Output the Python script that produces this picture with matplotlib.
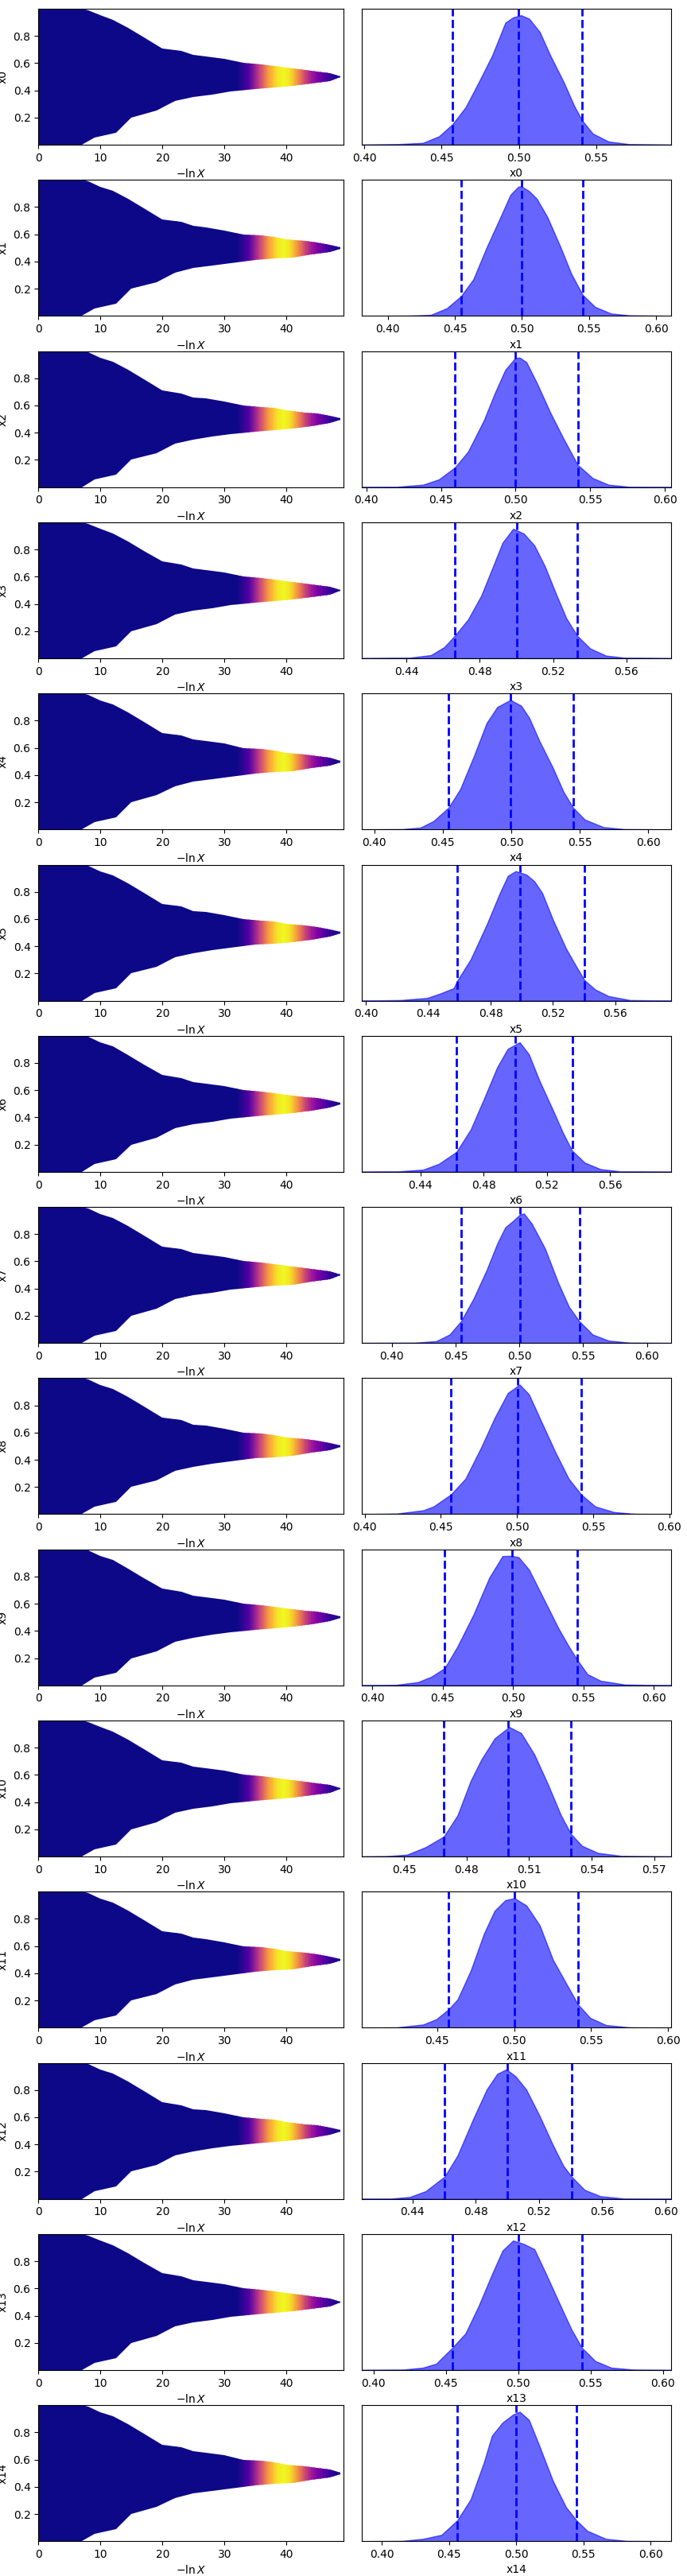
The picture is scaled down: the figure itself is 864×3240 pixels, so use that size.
import matplotlib
matplotlib.use("Agg")
import matplotlib.pyplot as plt
import numpy as np
from matplotlib.patches import Polygon
from matplotlib.ticker import MaxNLocator

labels = ["x%d" % i for i in range(15)]

# outline of the sample cloud in the trace panels
env_x = [0, 7, 8, 10, 12, 14.5, 17, 20, 23, 25, 27, 30, 33, 36, 38, 40, 43, 45, 47, 48.7]
env_hi = [0.9995, 0.9995, 0.99, 0.95, 0.92, 0.86, 0.79, 0.71, 0.69, 0.66, 0.65, 0.63, 0.60,
          0.59, 0.58, 0.565, 0.55, 0.54, 0.525, 0.505]
env_lo_x = [0, 7, 9, 12.5, 15, 19, 22, 25, 28, 31, 35, 38, 41, 44, 47, 48.7]
env_lo = [0.0005, 0.0005, 0.055, 0.09, 0.20, 0.25, 0.32, 0.35, 0.37, 0.39, 0.41, 0.42, 0.43,
          0.45, 0.47, 0.495]

# importance weight along -ln X (colour of the points)
wt_x = [0, 32, 34, 35.5, 37, 38.5, 39.5, 40.5, 42, 43, 44, 45, 46, 47, 48, 49.2]
wt = [0, 0, 0.15, 0.45, 0.75, 0.95, 1.0, 0.95, 0.7, 0.5, 0.35, 0.25, 0.15, 0.08, 0.03, 0.0]

# marginal posteriors: x range, tick labels, quantiles, kde points
xlims = [(0.3986, 0.5983), (0.3809, 0.6109), (0.3972, 0.6039), (0.4157, 0.5843),
         (0.3911, 0.6164), (0.3974, 0.5957), (0.4031, 0.5986), (0.3767, 0.6187),
         (0.3983, 0.6009), (0.3928, 0.6122), (0.4299, 0.5780), (0.4013, 0.6017),
         (0.4082, 0.6033), (0.3921, 0.6055), (0.3852, 0.6152)]
t05 = [0.40, 0.45, 0.50, 0.55, 0.60]
t04 = [0.44, 0.48, 0.52, 0.56]
xticks = [[0.40, 0.45, 0.50, 0.55], t05, t05, t04, t05,
          [0.40] + t04, t04, t05, t05, t05,
          [0.45, 0.48, 0.51, 0.54, 0.57], [0.45, 0.50, 0.55, 0.60],
          t04 + [0.60], t05, t05]
quants = [(0.4569, 0.4996, 0.5409), (0.4545, 0.4995, 0.5453), (0.4593, 0.4997, 0.5416),
          (0.4663, 0.5002, 0.5332), (0.4542, 0.4992, 0.5451), (0.4584, 0.4987, 0.5401),
          (0.4628, 0.5001, 0.5362), (0.4542, 0.5003, 0.5470), (0.4565, 0.5002, 0.5421),
          (0.4514, 0.4994, 0.5456), (0.4691, 0.5000, 0.5301), (0.4574, 0.5002, 0.5415),
          (0.4603, 0.4999, 0.5406), (0.4544, 0.5000, 0.5441), (0.4561, 0.4999, 0.5449)]

kde_x = [
    [0.4209, 0.438, 0.4484, 0.457, 0.4656, 0.4741, 0.4827, 0.4913, 0.4964, 0.5015, 0.5067,
     0.5135, 0.5204, 0.529, 0.5358, 0.5409, 0.5478, 0.5581, 0.5718],
    [0.4164, 0.4322, 0.444, 0.4545, 0.4638, 0.4736, 0.4835, 0.4914, 0.4973, 0.4995, 0.5052,
     0.5111, 0.519, 0.5289, 0.5368, 0.5453, 0.5545, 0.5664, 0.5802],
    [0.4202, 0.438, 0.4486, 0.4593, 0.4681, 0.4788, 0.4859, 0.493, 0.4997, 0.5027, 0.5072,
     0.5143, 0.5231, 0.532, 0.5416, 0.5516, 0.5622, 0.5764],
    [0.4417, 0.4533, 0.4606, 0.4663, 0.4736, 0.4808, 0.4866, 0.4924, 0.4982, 0.504, 0.5098,
     0.5156, 0.5214, 0.5272, 0.5332, 0.5402, 0.5489, 0.559],
    [0.4201, 0.4337, 0.4433, 0.4542, 0.4627, 0.4723, 0.482, 0.4897, 0.4994, 0.5072, 0.513,
     0.5207, 0.5304, 0.5381, 0.5451, 0.5536, 0.5671, 0.5826],
    [0.4221, 0.4391, 0.4477, 0.4562, 0.4587, 0.4672, 0.4774, 0.4859, 0.491, 0.4961, 0.5029,
     0.508, 0.5131, 0.5199, 0.5284, 0.5352, 0.5403, 0.5471, 0.5556, 0.5693],
    [0.4249, 0.4417, 0.4517, 0.4628, 0.4719, 0.4802, 0.4886, 0.4953, 0.5029, 0.5087, 0.5154,
     0.5238, 0.5305, 0.5361, 0.544, 0.5541, 0.5675],
    [0.4183, 0.4349, 0.4453, 0.4542, 0.464, 0.4744, 0.4827, 0.4889, 0.4951, 0.5003, 0.5035,
     0.5097, 0.5201, 0.5305, 0.5388, 0.547, 0.5574, 0.5699, 0.5865],
    [0.4209, 0.4383, 0.4452, 0.4565, 0.4661, 0.4765, 0.4852, 0.4939, 0.5017, 0.5078, 0.5165,
     0.5252, 0.5339, 0.5421, 0.5513, 0.5635, 0.5774],
    [0.4173, 0.4324, 0.4418, 0.4514, 0.4606, 0.4719, 0.4832, 0.4926, 0.4983, 0.504, 0.5115,
     0.5228, 0.5322, 0.5397, 0.5456, 0.5529, 0.5623, 0.5793],
    [0.4414, 0.4515, 0.4604, 0.4691, 0.4757, 0.482, 0.4871, 0.4935, 0.5005, 0.5062, 0.5125,
     0.5189, 0.5253, 0.5301, 0.5354, 0.5431, 0.5545],
    [0.4237, 0.4409, 0.4495, 0.4574, 0.4633, 0.4719, 0.4805, 0.4873, 0.4942, 0.5002, 0.508,
     0.5166, 0.5252, 0.5338, 0.5415, 0.5493, 0.5596, 0.5751],
    [0.4266, 0.4383, 0.4484, 0.4603, 0.4685, 0.4785, 0.4869, 0.4936, 0.4994, 0.5053, 0.512,
     0.5204, 0.5288, 0.5355, 0.5406, 0.5488, 0.5589, 0.5739],
    [0.4196, 0.4342, 0.4434, 0.4544, 0.4636, 0.4727, 0.4819, 0.4892, 0.4965, 0.5038, 0.5112,
     0.5185, 0.5276, 0.5368, 0.5441, 0.5533, 0.5643, 0.5808],
    [0.4148, 0.4306, 0.4444, 0.4561, 0.4661, 0.476, 0.4819, 0.4898, 0.4977, 0.5026, 0.5095,
     0.5174, 0.5273, 0.5371, 0.5449, 0.5529, 0.5668, 0.5826],
]
kde_y = [
    [0.004, 0.014, 0.065, 0.157, 0.29, 0.484, 0.688, 0.943, 0.984, 1.0, 0.973, 0.871, 0.688,
     0.484, 0.30, 0.188, 0.086, 0.024, 0.004],
    [0.002, 0.008, 0.059, 0.151, 0.283, 0.527, 0.752, 0.935, 0.998, 1.0, 0.965, 0.904, 0.762,
     0.527, 0.324, 0.161, 0.069, 0.018, 0.004],
    [0.002, 0.018, 0.059, 0.151, 0.273, 0.517, 0.721, 0.904, 0.996, 1.0, 0.965, 0.802, 0.578,
     0.375, 0.171, 0.069, 0.018, 0.002],
    [0.004, 0.024, 0.086, 0.173, 0.30, 0.484, 0.688, 0.892, 1.0, 0.963, 0.871, 0.708, 0.504,
     0.31, 0.173, 0.076, 0.02, 0.004],
    [0.002, 0.014, 0.065, 0.168, 0.311, 0.556, 0.822, 0.945, 1.0, 0.955, 0.863, 0.679, 0.474,
     0.29, 0.168, 0.076, 0.018, 0.002],
    [0.004, 0.02, 0.055, 0.096, 0.157, 0.32, 0.586, 0.831, 0.963, 1.0, 0.973, 0.922, 0.831,
     0.627, 0.402, 0.259, 0.157, 0.086, 0.035, 0.004],
    [0.002, 0.016, 0.061, 0.153, 0.327, 0.561, 0.806, 0.949, 1.0, 0.908, 0.704, 0.48, 0.296,
     0.163, 0.071, 0.02, 0.002],
    [0.002, 0.014, 0.065, 0.167, 0.341, 0.565, 0.769, 0.892, 0.943, 0.99, 1.0, 0.922, 0.729,
     0.463, 0.28, 0.167, 0.065, 0.018, 0.002],
    [0.004, 0.029, 0.059, 0.151, 0.273, 0.517, 0.741, 0.935, 1.0, 0.925, 0.70, 0.477, 0.273,
     0.151, 0.059, 0.016, 0.002],
    [0.004, 0.024, 0.065, 0.131, 0.30, 0.545, 0.831, 0.998, 1.0, 0.99, 0.892, 0.647, 0.443,
     0.30, 0.198, 0.086, 0.035, 0.006],
    [0.002, 0.014, 0.072, 0.154, 0.318, 0.584, 0.748, 0.912, 1.0, 0.953, 0.789, 0.563, 0.318,
     0.174, 0.082, 0.027, 0.004],
    [0.002, 0.024, 0.065, 0.141, 0.218, 0.443, 0.729, 0.902, 0.984, 1.0, 0.943, 0.79, 0.524,
     0.341, 0.178, 0.076, 0.02, 0.002],
    [0.002, 0.014, 0.059, 0.171, 0.334, 0.619, 0.843, 0.965, 1.0, 0.945, 0.843, 0.64, 0.415,
     0.253, 0.171, 0.069, 0.02, 0.002],
    [0.002, 0.018, 0.049, 0.171, 0.283, 0.496, 0.74, 0.923, 1.0, 0.974, 0.933, 0.76, 0.537,
     0.313, 0.171, 0.069, 0.018, 0.002],
    [0.002, 0.018, 0.049, 0.161, 0.324, 0.61, 0.814, 0.916, 0.978, 1.0, 0.937, 0.733, 0.467,
     0.263, 0.161, 0.08, 0.018, 0.002],
]

W, H = 864, 3240
fig = plt.figure(figsize=(W / 100, H / 100), dpi=100)

row_step = 215.3
ax_h = 171
for i in range(15):
    top = 11 + row_step * i
    bot = 1 - (top + ax_h) / H
    axl = fig.add_axes([48.3 / W, bot, 383.4 / W, ax_h / H])
    axr = fig.add_axes([455.3 / W, bot, 388.4 / W, ax_h / H])

    # trace panel: sample cloud coloured by weight
    verts = list(zip(env_x, env_hi)) + list(zip(env_lo_x[::-1], env_lo[::-1]))
    patch = Polygon(verts, closed=True, facecolor="none", edgecolor="none")
    axl.add_patch(patch)
    X, Y = np.meshgrid(wt_x, [0, 1])
    C = np.vstack([wt, wt])
    mesh = axl.pcolormesh(X, Y, C, cmap="plasma", vmin=0, vmax=1, shading="gouraud")
    mesh.set_clip_path(patch)
    axl.set_xlim(0, 49.15)
    axl.set_ylim(0.0005, 0.9995)
    axl.xaxis.set_major_locator(MaxNLocator(5))
    axl.yaxis.set_major_locator(MaxNLocator(5))
    axl.set_xlabel(r"$-\ln X$")
    axl.set_ylabel(labels[i])

    # posterior panel
    xs = [xlims[i][0]] + kde_x[i] + [xlims[i][1]]
    ys = [0] + kde_y[i] + [0]
    axr.fill_between(xs, ys, color="blue", alpha=0.6)
    for q in quants[i]:
        axr.axvline(q, lw=2, ls="dashed", color="blue")
    axr.set_xlim(*xlims[i])
    axr.set_ylim(0, 1.05)
    axr.set_yticks([])
    axr.set_xticks(xticks[i])
    axr.set_xticklabels(["%.2f" % t for t in xticks[i]])
    axr.set_xlabel(labels[i])

fig.savefig("out.png", dpi=100)
